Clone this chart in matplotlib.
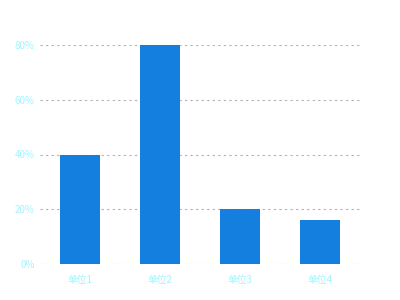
import matplotlib.pyplot as plt
from matplotlib.ticker import FuncFormatter

plt.rcParams['font.family'] = ['Noto Sans CJK SC', 'DejaVu Sans']

categories = ['单位1', '单位2', '单位3', '单位4']
values = [40, 80, 20, 16]
yticks = [0, 20, 40, 60, 80]

fig = plt.figure(figsize=(4, 3), dpi=100)
ax = fig.add_axes([0.1, 0.12, 0.8, 0.73])

x = range(len(categories))
ax.bar(x, values, width=0.5, color='#157fe0', zorder=3)

ax.set_xlim(-0.5, 3.5)
ax.set_ylim(0, 80)
ax.set_yticks(yticks)
ax.yaxis.set_major_formatter(FuncFormatter(lambda v, p: '%d%%' % v))
ax.set_xticks(list(x))
ax.set_xticklabels(categories)

ax.grid(True, axis='y', color='#b0b0b0', linestyle=(0, (2, 3)), linewidth=0.8, zorder=0)
for s in ax.spines.values():
    s.set_visible(False)
ax.tick_params(axis='both', length=0, labelsize=7, labelcolor='#9ff5ff')
ax.tick_params(axis='y', pad=4)
ax.tick_params(axis='x', pad=8)

plt.savefig('out.png', dpi=100)
